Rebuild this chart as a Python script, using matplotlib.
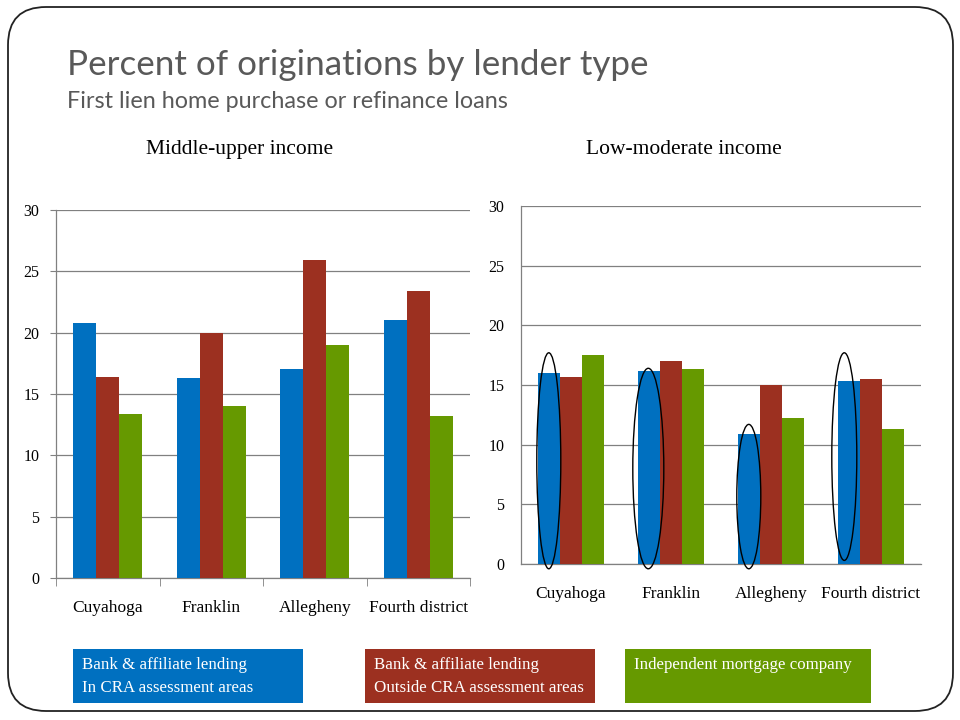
import matplotlib
matplotlib.use("Agg")
import matplotlib.pyplot as plt
import numpy as np
from matplotlib.patches import Ellipse, FancyBboxPatch, Rectangle

# ---------------- data ----------------
categories = ["Cuyahoga", "Franklin", "Allegheny", "Fourth district"]
series_names = ["Bank & affiliate lending\nIn CRA assessment areas",
                "Bank & affiliate lending\nOutside CRA assessment areas",
                "Independent mortgage company"]
mid_upper_in_cra = [20.8, 16.3, 17.0, 21.0]
mid_upper_out_cra = [16.4, 20.0, 25.9, 23.4]
mid_upper_indep = [13.4, 14.0, 19.0, 13.2]
low_mod_in_cra = [16.0, 16.2, 10.9, 15.3]
low_mod_out_cra = [15.7, 17.0, 15.0, 15.5]
low_mod_indep = [17.5, 16.3, 12.2, 11.3]
yticks = [0, 5, 10, 15, 20, 25, 30]
# highlight ellipses on low-moderate "in CRA" bars: (bottom, top) in data units
ellipse_spans = [(-0.4, 17.7), (-0.4, 16.4), (-0.4, 11.7), (0.3, 17.7)]
ellipse_widths = [0.24, 0.31, 0.24, 0.25]
ellipse_xshift = [0.0, -0.005, 0.0, -0.045]

colors = ["#0070C0", "#9C3020", "#669900"]
SERIF = ["Liberation Serif", "DejaVu Serif"]
SANS = ["Lato", "DejaVu Sans"]

W, H = 960, 720
fig = plt.figure(figsize=(9.6, 7.2), dpi=100)

# background axes for the slide frame and legend boxes (pixel coordinates)
bg = fig.add_axes([0, 0, 1, 1], zorder=0)
bg.set_xlim(0, W)
bg.set_ylim(H, 0)
bg.axis("off")
bg.add_patch(FancyBboxPatch((8 + 38, 7 + 38), 945 - 76, 704 - 76,
                            boxstyle="round,pad=38,rounding_size=38",
                            fill=False, edgecolor="#222222", linewidth=1.3))

bg.text(67, 75, "Percent of originations by lender type", fontsize=25.2,
        family=SANS, color="#595959", va="baseline", ha="left")
bg.text(67, 108, "First lien home purchase or refinance loans", fontsize=16.8,
        family=SANS, color="#595959", va="baseline", ha="left")
bg.text(240, 154, "Middle-upper income", fontsize=15.5, family=SERIF,
        color="black", va="baseline", ha="center")
bg.text(684, 154, "Low-moderate income", fontsize=15.5, family=SERIF,
        color="black", va="baseline", ha="center")

# legend boxes
legend_boxes = [(73, 649, 230, 54), (365, 649, 230, 54), (625, 649, 246, 54)]
for (x, y, w, h), c, name in zip(legend_boxes, colors, series_names):
    bg.add_patch(Rectangle((x, y), w, h, facecolor=c, edgecolor="none"))
    bg.text(x + 9, y + 8, name, color="white", fontsize=12.2, family=SERIF,
            va="top", ha="left", linespacing=1.6)


def bar_panel(rect, vals, ticks_between):
    ax = fig.add_axes(rect, zorder=1)
    x = np.arange(len(categories))
    bw = 0.222
    for k, (v, c) in enumerate(zip(vals, colors)):
        ax.bar(x + (k - 1) * bw, v, width=bw, color=c, zorder=3, linewidth=0)
    ax.set_xlim(-0.5, len(categories) - 0.5)
    ax.set_ylim(0, 30)
    ax.set_yticks(yticks)
    ax.set_yticklabels([str(t) for t in yticks], family=SERIF, fontsize=11.5)
    ax.set_xticks(x)
    ax.set_xticklabels(categories, family=SERIF, fontsize=12.5)
    ax.tick_params(axis="x", length=0, pad=16)
    ax.tick_params(axis="y", length=4, color="#808080", pad=8)
    if ticks_between:
        ax.set_xticks(np.arange(-0.5, len(categories)), minor=True)
        ax.tick_params(axis="x", which="minor", length=6, color="#808080")
    ax.grid(axis="y", color="#808080", linewidth=0.9, zorder=0)
    ax.set_axisbelow(True)
    for s in ["top", "right"]:
        ax.spines[s].set_visible(False)
    for s in ["left", "bottom"]:
        ax.spines[s].set_color("#808080")
        ax.spines[s].set_linewidth(0.9)
    return ax, x, bw


ax1, _, _ = bar_panel([56 / W, 1 - 578 / H, 414 / W, 368 / H],
                      [mid_upper_in_cra, mid_upper_out_cra, mid_upper_indep], True)
ax2, x2, bw2 = bar_panel([521 / W, 1 - 564 / H, 400 / W, 358 / H],
                         [low_mod_in_cra, low_mod_out_cra, low_mod_indep], False)
ax2.tick_params(axis="y", length=0, pad=12)

for i, ((lo, hi), w, dx) in enumerate(zip(ellipse_spans, ellipse_widths, ellipse_xshift)):
    cx = x2[i] - bw2 + dx
    ax2.add_patch(Ellipse((cx, (lo + hi) / 2), w, hi - lo, fill=False,
                          edgecolor="black", linewidth=1.0, zorder=4, clip_on=False))

fig.savefig("out.png", dpi=100)
